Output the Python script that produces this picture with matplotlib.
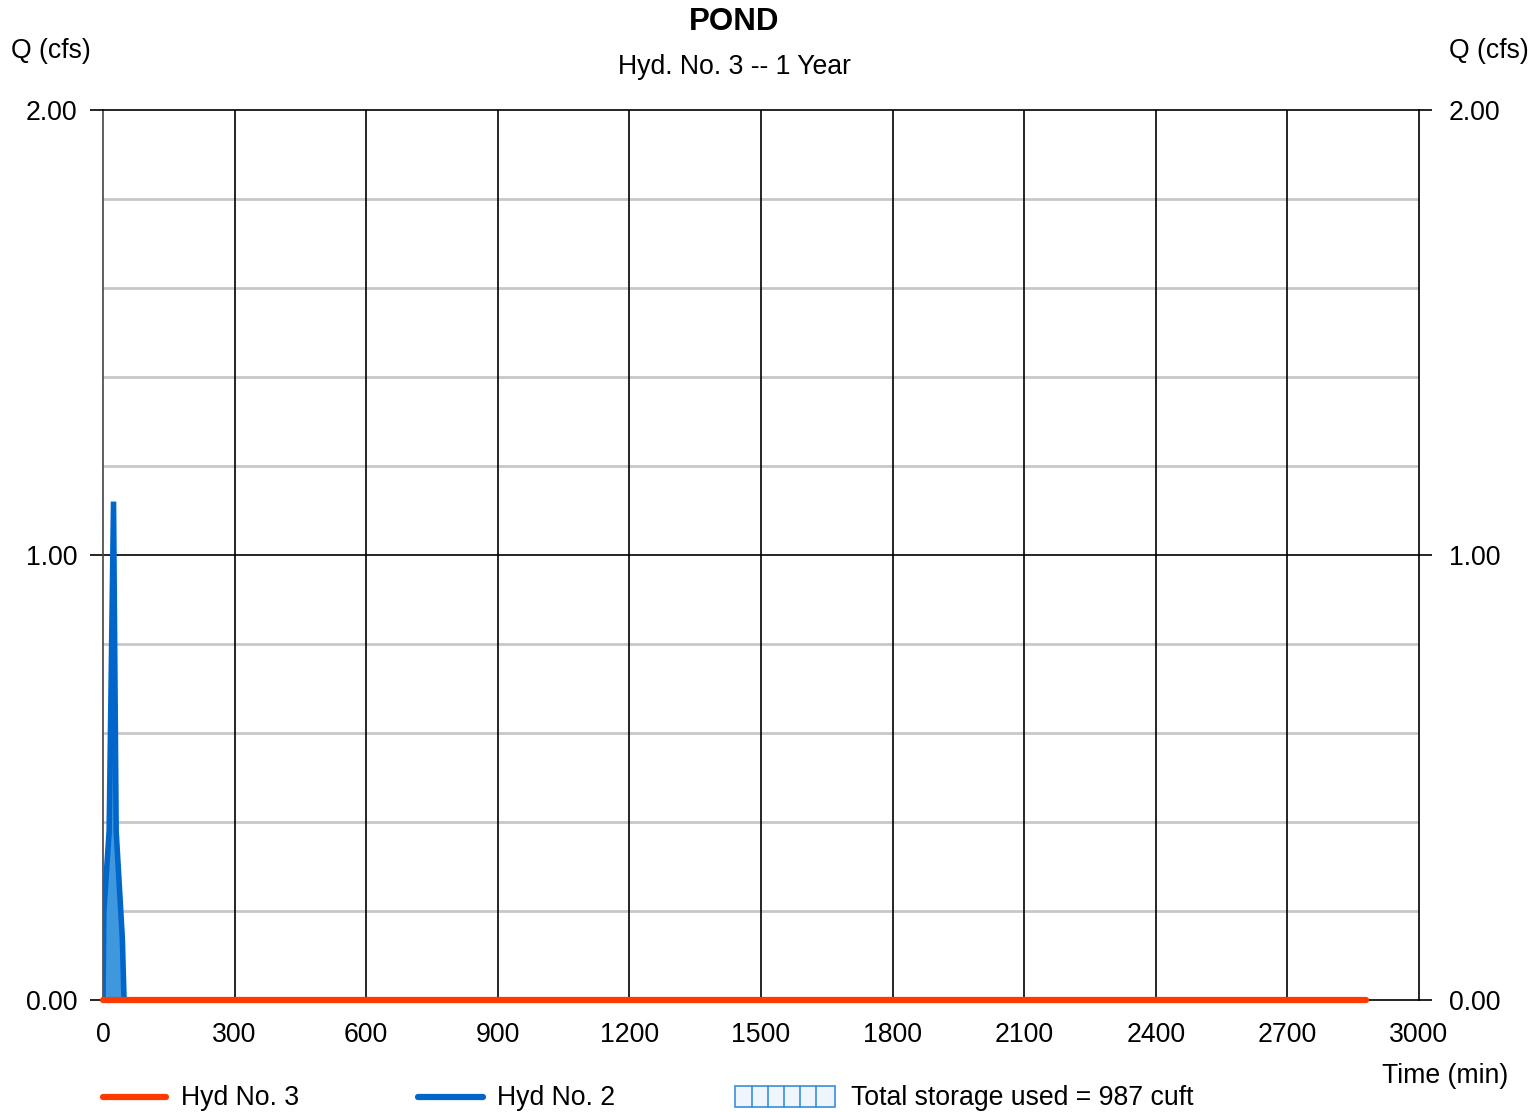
import matplotlib
matplotlib.use("Agg")
import matplotlib.pyplot as plt
from matplotlib.patches import Rectangle
from matplotlib.lines import Line2D

plt.rcParams['font.family'] = ['Liberation Sans', 'DejaVu Sans']

# ---- data ----
title = "POND"
subtitle = "Hyd. No. 3 -- 1 Year"
inflow_time = [0, 2, 14, 24, 30, 44, 48]          # Hyd No. 2 (min)
inflow_q = [0.0, 0.20, 0.38, 1.12, 0.38, 0.14, 0.0]  # cfs
outflow_time = [0, 2880]                          # Hyd No. 3 (min)
outflow_q = [0.0, 0.0]
x_ticks = [0, 300, 600, 900, 1200, 1500, 1800, 2100, 2400, 2700, 3000]
y_ticks = [0.0, 1.0, 2.0]
y_minor = [0.2, 0.4, 0.6, 0.8, 1.2, 1.4, 1.6, 1.8]
storage_text = "Total storage used = 987 cuft"

FS = 19.2
W, H = 1538, 1112
fig = plt.figure(figsize=(W / 100, H / 100), dpi=100)
ax = fig.add_axes([103 / W, 1 - 1000 / H, (1419 - 103) / W, (1000 - 110) / H])
ax.set_xlim(0, 3000)
ax.set_ylim(0, 2)

RED = '#ff3a00'
BLUE = '#0066cc'
FILL = '#3f98de'

# grid
for v in y_minor:
    ax.axhline(v, color='#c8c8c8', lw=2, zorder=1)
ax.axhline(1.0, color='black', lw=1.2, zorder=1)
for v in x_ticks[1:-1]:
    ax.axvline(v, color='black', lw=1.2, zorder=1)

ax.fill_between(inflow_time, inflow_q, color=FILL, zorder=2, lw=0)
ax.plot(inflow_time, inflow_q, color=BLUE, lw=4, zorder=3, solid_joinstyle='miter')
ax.plot(outflow_time, outflow_q, color=RED, lw=4.5, zorder=4, solid_capstyle='round', clip_on=False)

for s in ax.spines.values():
    s.set_color('black')
    s.set_linewidth(1.2)
ax.spines['left'].set_color('#444444')

ax.set_xticks(x_ticks)
ax.set_xticklabels([str(v) for v in x_ticks], fontsize=FS)
ax.tick_params(axis='x', length=0, pad=16)
ax.set_yticks(y_ticks)
ax.set_yticklabels([f"{v:.2f}" for v in y_ticks], fontsize=FS)
ax.tick_params(axis='y', length=9.5, width=1.2, pad=9, left=True, right=False,
               labelleft=True, labelright=False)

axr = ax.twinx()
axr.set_ylim(0, 2)
axr.set_yticks(y_ticks)
axr.set_yticklabels([f"{v:.2f}" for v in y_ticks], fontsize=FS)
axr.tick_params(axis='y', length=9.5, width=1.2, pad=12)
for s in axr.spines.values():
    s.set_visible(False)

def fx(px):
    return px / W

def fy(py):
    return 1 - py / H

fig.text(fx(734), fy(22), title, fontsize=22.5, fontweight='bold', ha='center', va='center')
fig.text(fx(734), fy(67), subtitle, fontsize=FS, ha='center', va='center')
fig.text(fx(11), fy(51), "Q (cfs)", fontsize=FS, ha='left', va='center')
fig.text(fx(1529), fy(51), "Q (cfs)", fontsize=FS, ha='right', va='center')
fig.text(fx(1508), fy(1076), "Time (min)", fontsize=FS, ha='right', va='center')

# legend
fig.add_artist(Line2D([fx(103), fx(166)], [fy(1097), fy(1097)], color=RED, lw=4.5, solid_capstyle='round'))
fig.text(fx(181), fy(1098), "Hyd No. 3", fontsize=FS, ha='left', va='center')
fig.add_artist(Line2D([fx(418), fx(483)], [fy(1097), fy(1097)], color=BLUE, lw=4.5, solid_capstyle='round'))
fig.text(fx(497), fy(1098), "Hyd No. 2", fontsize=FS, ha='left', va='center')
fig.add_artist(Rectangle((fx(735), fy(1107)), fx(100), 21 / H, facecolor='#eef5fc',
                         edgecolor='#3a8de0', lw=1.2, transform=fig.transFigure))
for px in [752, 768, 784, 800, 816]:
    fig.add_artist(Line2D([fx(px), fx(px)], [fy(1107), fy(1086)], color='#3a8de0', lw=1.2))
fig.text(fx(851), fy(1098), storage_text, fontsize=FS, ha='left', va='center')

fig.savefig("out.png", dpi=100, facecolor='white')
